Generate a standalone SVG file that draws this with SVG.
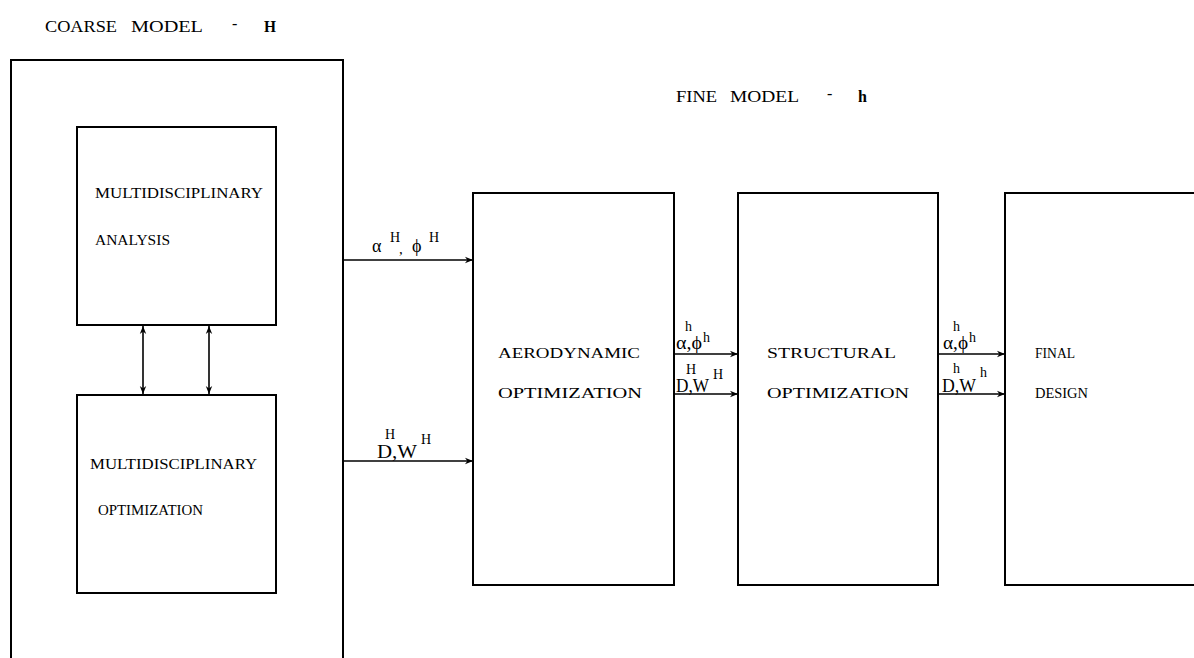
<svg xmlns="http://www.w3.org/2000/svg" width="1194" height="658" viewBox="0 0 1194 658">
<defs>
<marker id="ah" viewBox="0 0 10 10" refX="10" refY="5" markerWidth="11" markerHeight="8" markerUnits="userSpaceOnUse" orient="auto-start-reverse">
<path d="M0,1 L10,5 L0,9 L3,5 Z" fill="#000"/>
</marker>
<style>
.b{fill:#fff;stroke:#000;stroke-width:2}
.c{stroke:#000;stroke-width:1.6;fill:none}
text{font-family:"Liberation Serif","Times New Roman",serif;font-size:15px;fill:#000}
.t{font-size:16px}
.s{font-size:14px}
.g{font-size:18px}
</style>
</defs>
<g id="titles">
<text class="t" x="45" y="32" textLength="72" lengthAdjust="spacingAndGlyphs">COARSE</text>
<text class="t" x="131" y="32" textLength="72" lengthAdjust="spacingAndGlyphs">MODEL</text>
<text class="t" x="232" y="29">-</text>
<text class="t" x="264" y="32" textLength="12" lengthAdjust="spacingAndGlyphs" font-weight="bold">H</text>
<text class="t" x="676" y="102" textLength="41" lengthAdjust="spacingAndGlyphs">FINE</text>
<text class="t" x="730" y="102" textLength="69" lengthAdjust="spacingAndGlyphs">MODEL</text>
<text class="t" x="827" y="99">-</text>
<text class="t" x="858" y="102" font-weight="bold">h</text>
</g>
<g id="coarse">
<path class="b" d="M11,670 L11,60 L343,60 L343,670"/>
</g>
<g id="analysis">
<rect class="b" x="77" y="127" width="199" height="198"/>
<text x="95" y="198" textLength="168" lengthAdjust="spacingAndGlyphs">MULTIDISCIPLINARY</text>
<text x="95" y="245" textLength="75" lengthAdjust="spacingAndGlyphs">ANALYSIS</text>
</g>
<g id="optim">
<rect class="b" x="77" y="395" width="199" height="198"/>
<text x="90" y="469" textLength="167" lengthAdjust="spacingAndGlyphs">MULTIDISCIPLINARY</text>
<text x="98" y="515" textLength="105" lengthAdjust="spacingAndGlyphs">OPTIMIZATION</text>
</g>
<g id="aero">
<rect class="b" x="473" y="193" width="201" height="392"/>
<text x="498" y="358" textLength="142" lengthAdjust="spacingAndGlyphs">AERODYNAMIC</text>
<text x="498" y="398" textLength="144" lengthAdjust="spacingAndGlyphs">OPTIMIZATION</text>
</g>
<g id="struct">
<rect class="b" x="738" y="193" width="200" height="392"/>
<text x="767" y="358" textLength="129" lengthAdjust="spacingAndGlyphs">STRUCTURAL</text>
<text x="767" y="398" textLength="142" lengthAdjust="spacingAndGlyphs">OPTIMIZATION</text>
</g>
<g id="final">
<path class="b" d="M1200,193 L1005,193 L1005,585 L1200,585"/>
<text x="1035" y="358" textLength="40" lengthAdjust="spacingAndGlyphs">FINAL</text>
<text x="1035" y="398" textLength="53" lengthAdjust="spacingAndGlyphs">DESIGN</text>
</g>
<g id="connectors">
<line class="c" x1="143" y1="326" x2="143" y2="394" marker-start="url(#ah)" marker-end="url(#ah)" stroke-width="2"/>
<line class="c" x1="209" y1="326" x2="209" y2="394" marker-start="url(#ah)" marker-end="url(#ah)" stroke-width="1.2"/>
<line class="c" x1="343" y1="260" x2="473" y2="260" marker-end="url(#ah)"/>
<line class="c" x1="343" y1="461" x2="473" y2="461" marker-end="url(#ah)"/>
<line class="c" x1="674" y1="354" x2="738" y2="354" marker-end="url(#ah)"/>
<line class="c" x1="674" y1="394" x2="738" y2="394" marker-end="url(#ah)"/>
<line class="c" x1="938" y1="354" x2="1005" y2="354" marker-end="url(#ah)"/>
<line class="c" x1="938" y1="394" x2="1005" y2="394" marker-end="url(#ah)"/>
</g>
<g id="labels">
<text class="g" x="372" y="252">α</text>
<text class="s" x="390" y="242">H</text>
<text x="399" y="254">,</text>
<text class="g" x="412" y="252">ϕ</text>
<text class="s" x="429" y="242">H</text>
<text class="s" x="385" y="439">H</text>
<text class="g" x="377" y="458" textLength="40" lengthAdjust="spacingAndGlyphs">D,W</text>
<text class="s" x="421" y="444">H</text>
<text class="s" x="685" y="331">h</text>
<text class="g" x="676" y="349" textLength="26" lengthAdjust="spacingAndGlyphs">α,ϕ</text>
<text class="s" x="703" y="342">h</text>
<text class="s" x="686" y="374">H</text>
<text class="g" x="676" y="392" textLength="33" lengthAdjust="spacingAndGlyphs">D,W</text>
<text class="s" x="713" y="379">H</text>
<text class="s" x="953" y="331">h</text>
<text class="g" x="943" y="349" textLength="25" lengthAdjust="spacingAndGlyphs">α,ϕ</text>
<text class="s" x="969" y="342">h</text>
<text class="s" x="953" y="373">h</text>
<text class="g" x="942" y="392" textLength="34" lengthAdjust="spacingAndGlyphs">D,W</text>
<text class="s" x="980" y="377">h</text>
</g>
</svg>
